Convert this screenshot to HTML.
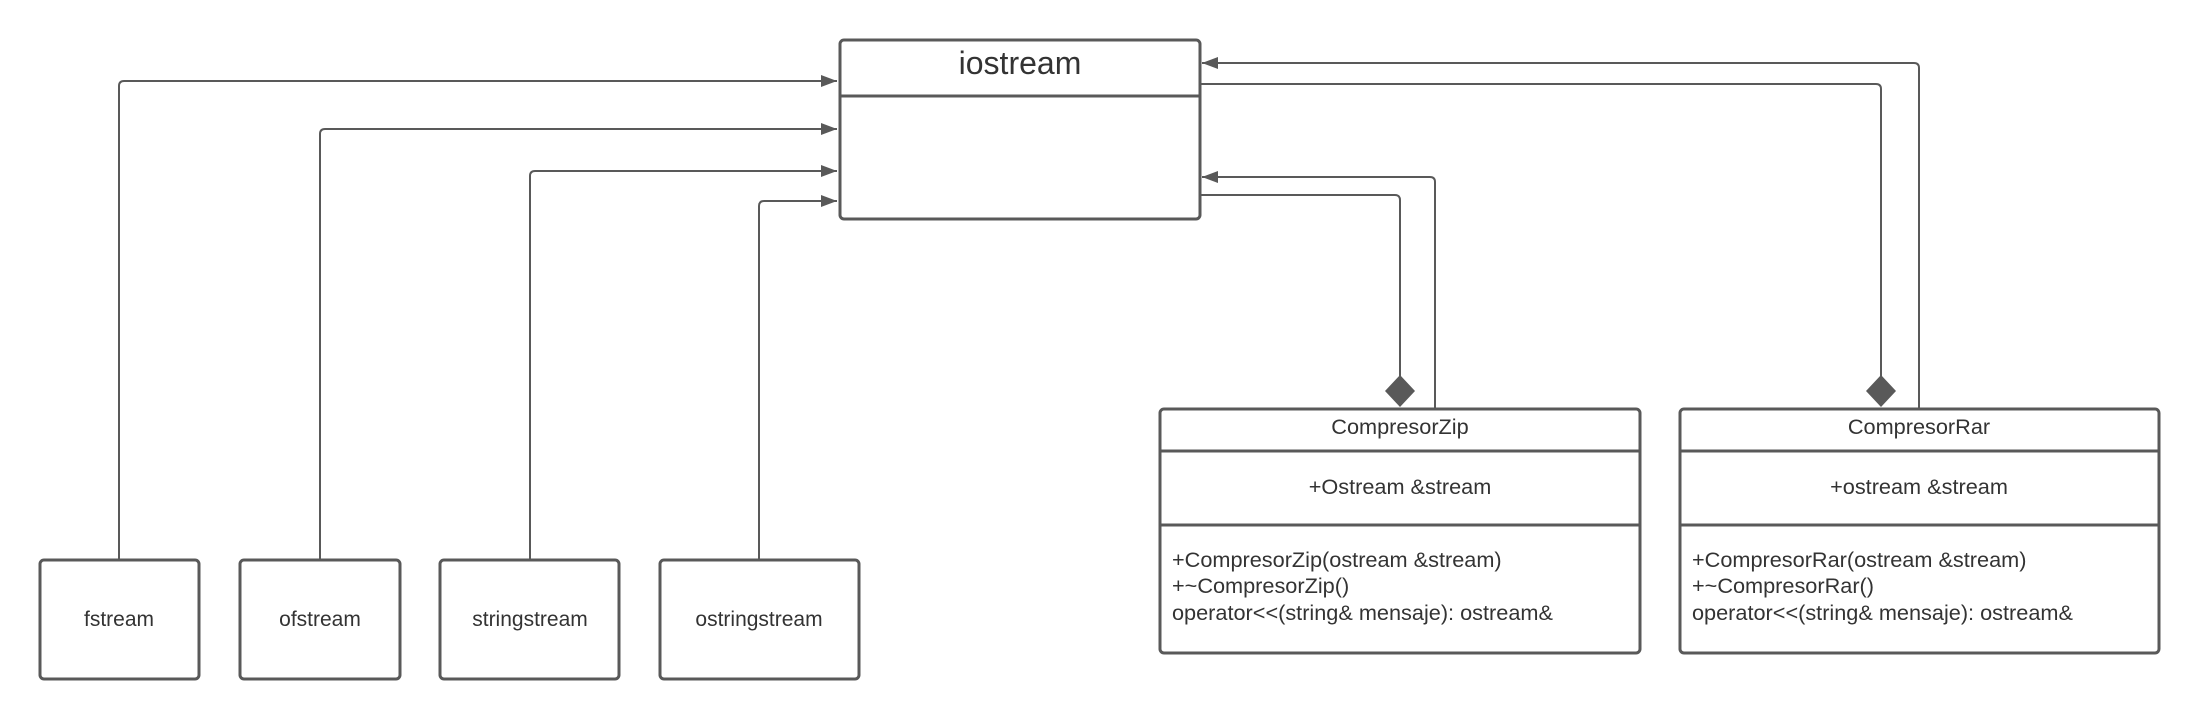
<!DOCTYPE html>
<html><head><meta charset="utf-8"><style>
html,body{margin:0;padding:0;background:#fff;}
svg{display:block;}
text{font-family:"Liberation Sans",sans-serif;fill:#333;}
</style></head><body>
<svg width="2200" height="720" viewBox="0 0 2200 720" xmlns="http://www.w3.org/2000/svg">
<defs>
<marker id="ar" markerWidth="16" markerHeight="12" refX="16" refY="6" orient="auto" markerUnits="userSpaceOnUse">
<path d="M0,0 L16,6 L0,12 Z" fill="#595959"/>
</marker>
</defs>
<g fill="none" stroke="#595959" stroke-width="2">
<path d="M119,560 V86 Q119,81 124,81 H837" marker-end="url(#ar)"/>
<path d="M320,560 V134 Q320,129 325,129 H837" marker-end="url(#ar)"/>
<path d="M530,560 V176 Q530,171 535,171 H837" marker-end="url(#ar)"/>
<path d="M759,560 V206 Q759,201 764,201 H837" marker-end="url(#ar)"/>
<path d="M1200,195 H1395 Q1400,195 1400,200 V376"/>
<path d="M1435,409 V182 Q1435,177 1430,177 H1202" marker-end="url(#ar)"/>
<path d="M1200,84 H1876 Q1881,84 1881,89 V376"/>
<path d="M1919,409 V68 Q1919,63 1914,63 H1202" marker-end="url(#ar)"/>
</g>
<path d="M1400,375 L1415,391 L1400,407 L1385,391 Z" fill="#595959"/>
<path d="M1881,375 L1896,391 L1881,407 L1866,391 Z" fill="#595959"/>
<g fill="#fff" stroke="#595959" stroke-width="3">
<rect x="840" y="40" width="360" height="179" rx="4"/>
<rect x="40" y="560" width="159" height="119" rx="4"/>
<rect x="240" y="560" width="160" height="119" rx="4"/>
<rect x="440" y="560" width="179" height="119" rx="4"/>
<rect x="660" y="560" width="199" height="119" rx="4"/>
<rect x="1160" y="409" width="480" height="244" rx="4"/>
<rect x="1680" y="409" width="479" height="244" rx="4"/>
</g>
<g stroke="#595959" stroke-width="3">
<line x1="840" y1="96" x2="1200" y2="96"/>
<line x1="1160" y1="451" x2="1640" y2="451"/>
<line x1="1160" y1="525" x2="1640" y2="525"/>
<line x1="1680" y1="451" x2="2159" y2="451"/>
<line x1="1680" y1="525" x2="2159" y2="525"/>
</g>
<text x="1020" y="74" font-size="32" text-anchor="middle" fill="#111">iostream</text>
<g font-size="21" text-anchor="middle">
<text x="119" y="626">fstream</text>
<text x="320" y="626">ofstream</text>
<text x="530" y="626">stringstream</text>
<text x="759" y="626">ostringstream</text>
</g>
<g font-size="21.7" text-anchor="middle">
<text x="1400" y="434">CompresorZip</text>
<text x="1400" y="494">+Ostream &amp;stream</text>
<text x="1919" y="434">CompresorRar</text>
<text x="1919" y="494">+ostream &amp;stream</text>
</g>
<g font-size="21.7">
<text x="1172" y="567">+CompresorZip(ostream &amp;stream)</text>
<text x="1172" y="593">+~CompresorZip()</text>
<text x="1172" y="620">operator&lt;&lt;(string&amp; mensaje): ostream&amp;</text>
<text x="1692" y="567">+CompresorRar(ostream &amp;stream)</text>
<text x="1692" y="593">+~CompresorRar()</text>
<text x="1692" y="620">operator&lt;&lt;(string&amp; mensaje): ostream&amp;</text>
</g>
</svg>
</body></html>
